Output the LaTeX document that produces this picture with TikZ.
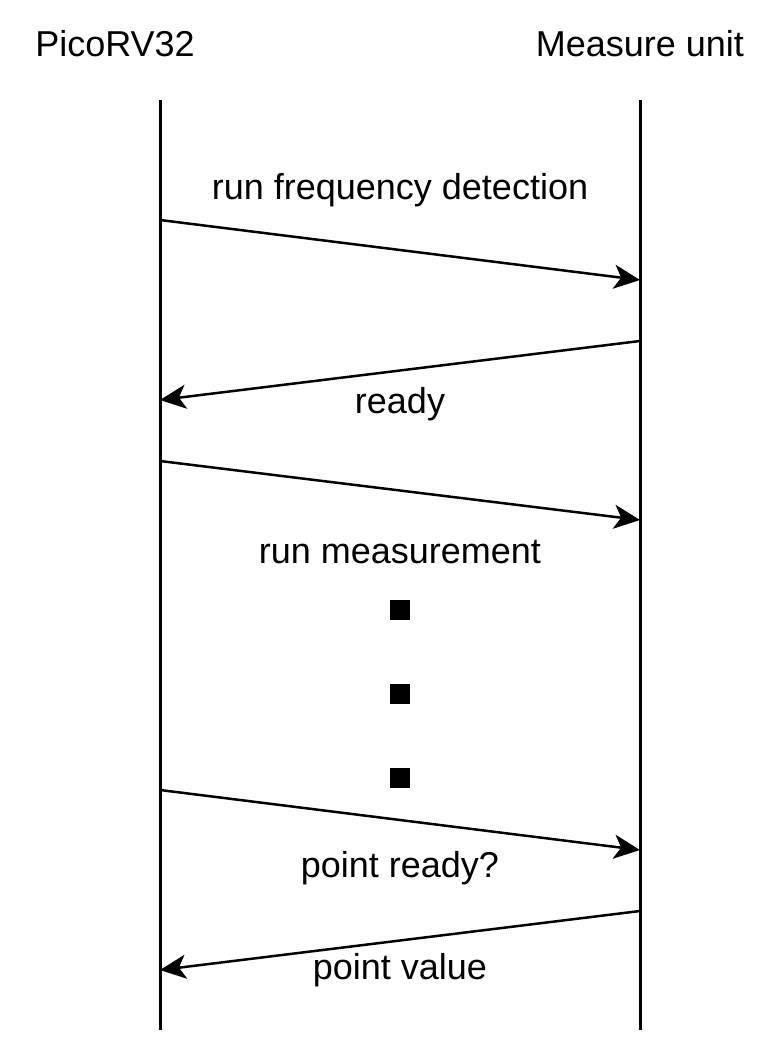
\documentclass[tikz,border=0pt]{standalone}
\usepackage{fontspec}
\setmainfont{Liberation Sans}
\usetikzlibrary{arrows.meta}
\tikzset{
  lifeline/.style={line width=3pt},
  msg/.style={line width=2.5pt, -{Stealth[length=26pt,width=24pt,inset=7pt]}},
  msglabel/.style={font=\fontsize{36}{43}\selectfont, inner sep=0pt},
  dot/.style={fill=black, minimum size=20pt, inner sep=0pt}
}

\begin{document}
\begin{tikzpicture}[x=1pt, y=-1pt]
			\useasboundingbox (0,0) rectangle (771,1044);
			% participants
			\node[msglabel] (pico) at (115,44) {PicoRV32};
			\node[msglabel] (meas) at (640,44) {Measure unit};
			\coordinate (pTop) at (160,100); \coordinate (pBot) at (160,1030);
			\coordinate (mTop) at (640,100); \coordinate (mBot) at (640,1030);
			\draw [lifeline] (pTop) -- (pBot);
			\draw [lifeline] (mTop) -- (mBot);
			% messages
			\coordinate (p1) at (160,220); \coordinate (m1) at (640,280);
			\coordinate (m2) at (640,341); \coordinate (p2) at (160,400);
			\coordinate (p3) at (160,461); \coordinate (m3) at (640,520);
			\coordinate (p4) at (160,790); \coordinate (m4) at (640,850);
			\coordinate (m5) at (640,911); \coordinate (p5) at (160,970);
			\draw [msg] (p1) -- (m1);
			\draw [msg] (m2) -- (p2);
			\draw [msg] (p3) -- (m3);
			\draw [msg] (p4) -- (m4);
			\draw [msg] (m5) -- (p5);
			\node[msglabel] (l1) at (400,190) {run frequency detection};
			\node[msglabel] (l2) at (400,404) {ready};
			\node[msglabel] (l3) at (400,552) {run measurement};
			\node[msglabel] (l4) at (400,868) {point ready?};
			\node[msglabel] (l5) at (400,970) {point value};
			% ellipsis
			\foreach \y [count=\i] in {610,694,778}
				\node[dot] (d\i) at (400,\y) {};
		\end{tikzpicture}
\end{document}
